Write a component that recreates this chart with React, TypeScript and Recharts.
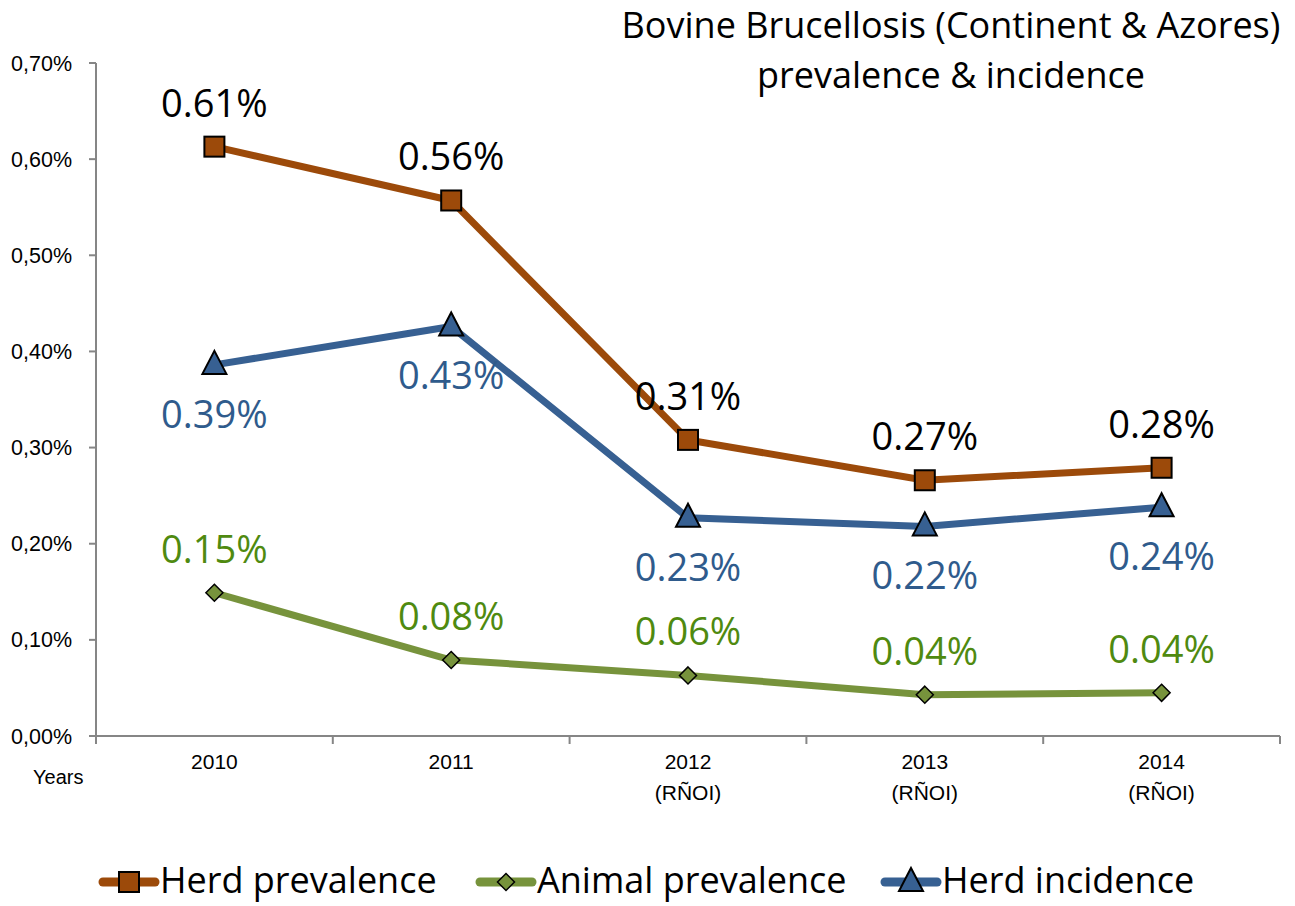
import React from "react";
import { LineChart, Line, XAxis, YAxis, LabelList } from "recharts";

const years = ["2010", "2011", "2012", "2013", "2014"];
const yearNotes = ["", "", "(RÑOI)", "(RÑOI)", "(RÑOI)"];
const herdPrevalence = [0.613, 0.557, 0.308, 0.266, 0.279];
const animalPrevalence = [0.149, 0.079, 0.063, 0.043, 0.0449];
const herdIncidence = [0.386, 0.426, 0.227, 0.218, 0.238];
const yTicks = [0, 0.1, 0.2, 0.3, 0.4, 0.5, 0.6, 0.7];

const BROWN = "#9C4A0A";
const GREEN = "#77933C";
const BLUE = "#376092";
const GREEN_TEXT = "#4F8A10";
const BLUE_TEXT = "#2F5B8C";
const AXIS = "#868686";

const data = years.map((y, i) => ({
  idx: i + 1,
  year: y,
  herdPrev: herdPrevalence[i],
  animalPrev: animalPrevalence[i],
  herdInc: herdIncidence[i],
}));

const boundaryTicks = [0.5, 1.5, 2.5, 3.5, 4.5, 5.5];
const centerTicks = [1, 2, 3, 4, 5];

const labelFont = "'Open Sans', 'Noto Sans', sans-serif";
const smallFont = "'Liberation Sans', Arial, sans-serif";

const SquareDot = (props: any) => {
  const { cx, cy } = props;
  if (cx == null || cy == null) return null;
  return <rect x={cx - 10} y={cy - 10} width={20} height={20} fill={BROWN} stroke="#000" strokeWidth={2} />;
};

const DiamondDot = (props: any) => {
  const { cx, cy } = props;
  if (cx == null || cy == null) return null;
  const r = 8.5;
  return (
    <polygon
      points={`${cx},${cy - r} ${cx + r},${cy} ${cx},${cy + r} ${cx - r},${cy}`}
      fill={GREEN}
      stroke="#000"
      strokeWidth={1.5}
    />
  );
};

const TriangleDot = (props: any) => {
  const { cx, cy } = props;
  if (cx == null || cy == null) return null;
  return (
    <polygon
      points={`${cx},${cy - 14} ${cx + 12},${cy + 9} ${cx - 12},${cy + 9}`}
      fill={BLUE}
      stroke="#000"
      strokeWidth={2}
    />
  );
};

const makeLabel = (color: string, dy: number) => (props: any) => {
  const { x, y, value } = props;
  return (
    <text x={x} y={y + dy} textAnchor="middle" dominantBaseline="central" fill={color} fontSize={38} fontFamily={labelFont}>
      {`${Number(value).toFixed(2)}%`}
    </text>
  );
};

const YearTick = (props: any) => {
  const { x, y, payload } = props;
  const i = payload.value - 1;
  return (
    <text x={x} y={y} textAnchor="middle" fill="#000" fontSize={21} fontFamily={smallFont}>
      <tspan x={x} dy={23}>{years[i]}</tspan>
      {yearNotes[i] && <tspan x={x} dy={31}>{yearNotes[i]}</tspan>}
    </text>
  );
};

const legendItems = [
  { name: "Herd prevalence", color: BROWN, Dot: SquareDot },
  { name: "Animal prevalence", color: GREEN, Dot: DiamondDot },
  { name: "Herd incidence", color: BLUE, Dot: TriangleDot },
];
const legendLeft = [98, 475, 880];

export default function App() {
  return (
    <div style={{ position: "absolute", left: 0, top: 0, width: 1295, height: 906, background: "#fff" }}>
      <div
        style={{
          position: "absolute",
          left: 601,
          top: 0,
          width: 700,
          textAlign: "center",
          fontFamily: labelFont,
          fontSize: 36,
          lineHeight: "50px",
          color: "#000",
          whiteSpace: "nowrap",
        }}
      >
        Bovine Brucellosis (Continent &amp; Azores)
        <br />
        prevalence &amp; incidence
      </div>
      <div style={{ position: "absolute", left: 33, top: 766, fontFamily: smallFont, fontSize: 20 }}>Years</div>
      <LineChart width={1295} height={906} data={data} margin={{ top: 63, right: 15, bottom: 80, left: 0 }}>
        <XAxis
          xAxisId="a"
          type="number"
          dataKey="idx"
          domain={[0.5, 5.5]}
          ticks={boundaryTicks}
          tickFormatter={() => ""}
          stroke={AXIS}
          strokeWidth={2}
          tickSize={8}
          height={10}
        />
        <XAxis
          xAxisId="b"
          type="number"
          dataKey="idx"
          domain={[0.5, 5.5]}
          ticks={centerTicks}
          axisLine={false}
          tickLine={false}
          tickSize={0}
          tickMargin={0}
          tick={<YearTick />}
          height={80}
        />
        <YAxis
          type="number"
          domain={[0, 0.7]}
          ticks={yTicks}
          width={96}
          stroke={AXIS}
          strokeWidth={2}
          tickSize={7}
          tickMargin={17}
          tick={{ fill: "#000", fontSize: 21.5, fontFamily: smallFont }}
          tickFormatter={(v: number) => `${v.toFixed(2).replace(".", ",")}%`}
        />
        <Line
          xAxisId="a"
          dataKey="herdPrev"
          name="Herd prevalence"
          stroke={BROWN}
          strokeWidth={7}
          dot={<SquareDot />}
          activeDot={false}
          isAnimationActive={false}
        >
          <LabelList dataKey="herdPrev" content={makeLabel("#000", -45)} />
        </Line>
        <Line
          xAxisId="a"
          dataKey="animalPrev"
          name="Animal prevalence"
          stroke={GREEN}
          strokeWidth={7}
          dot={<DiamondDot />}
          activeDot={false}
          isAnimationActive={false}
        >
          <LabelList dataKey="animalPrev" content={makeLabel(GREEN_TEXT, -45)} />
        </Line>
        <Line
          xAxisId="a"
          dataKey="herdInc"
          name="Herd incidence"
          stroke={BLUE}
          strokeWidth={7}
          dot={<TriangleDot />}
          activeDot={false}
          isAnimationActive={false}
        >
          <LabelList dataKey="herdInc" content={makeLabel(BLUE_TEXT, 48)} />
        </Line>
      </LineChart>
      {legendItems.map((it, i) => (
        <div
          key={it.name}
          style={{
            position: "absolute",
            left: legendLeft[i],
            top: 860,
            height: 40,
            display: "flex",
            alignItems: "center",
            fontFamily: labelFont,
            fontSize: 36,
            lineHeight: "40px",
            color: "#000",
            whiteSpace: "nowrap",
          }}
        >
          <svg width={62} height={40}>
            <line x1={5} y1={22} x2={57} y2={22} stroke={it.color} strokeWidth={9} strokeLinecap="round" />
            <it.Dot cx={31} cy={22} />
          </svg>
          <span>{it.name}</span>
        </div>
      ))}
    </div>
  );
}
